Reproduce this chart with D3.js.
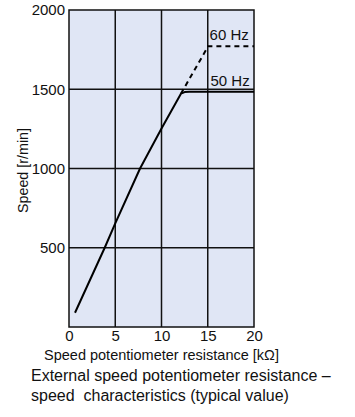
<!DOCTYPE html>
<html><head><meta charset="utf-8">
<script src="https://cdn.jsdelivr.net/npm/d3@7"></script>
<style>
html,body{margin:0;padding:0;background:#fff;}
svg{display:block;font-family:"Liberation Sans",Arial,Helvetica,sans-serif;}
</style></head>
<body>
<svg id="chart" width="355" height="417"></svg>
<script>
// Data
const resistance50 = [0.65, 3.86, 5, 7.68, 10, 12.1, 12.5, 13, 20];
const speed50      = [90, 500, 654, 1000, 1252, 1472, 1482, 1484, 1484];
const resistance60 = [12.1, 15.05, 20];
const speed60      = [1472, 1772, 1772];
const xTicks = [0, 5, 10, 15, 20];
const yTicks = [500, 1000, 1500, 2000];
const seriesLabels = ["60 Hz", "50 Hz"];
const xTitle = "Speed potentiometer resistance [kΩ]";
const yTitle = "Speed [r/min]";
const captionLines = ["External speed potentiometer resistance –", "speed  characteristics (typical value)"];

const svg = d3.select("#chart");
const L = 69, R = 254, T = 10, B = 327;
const x = d3.scaleLinear().domain([0, 20]).range([L, R]);
const y = d3.scaleLinear().domain([0, 2000]).range([B, T]);

svg.append("rect").attr("x", L).attr("y", T).attr("width", R - L).attr("height", B - T)
  .attr("fill", "#e0e6f5");

// grid
const g = svg.append("g");
g.selectAll(".vg").data(xTicks.slice(1, -1)).join("line")
  .attr("x1", d => x(d)).attr("x2", d => x(d)).attr("y1", T).attr("y2", B)
  .attr("stroke", "#111").attr("stroke-width", 1.5);
g.selectAll(".hg").data(yTicks.slice(0, -1)).join("line")
  .attr("y1", d => y(d)).attr("y2", d => y(d)).attr("x1", L).attr("x2", R)
  .attr("stroke", "#111").attr("stroke-width", 1.5);

// axes
const xAxis = svg.append("g").attr("transform", `translate(0,${B})`)
  .call(d3.axisBottom(x).tickValues(xTicks).tickFormat(d3.format("d")).tickSize(0).tickPadding(3));
const yAxis = svg.append("g").attr("transform", `translate(${L},0)`)
  .call(d3.axisLeft(y).tickValues(yTicks).tickFormat(d3.format("d")).tickSize(0).tickPadding(4));
[xAxis, yAxis].forEach(a => {
  a.attr("font-size", 15).attr("font-family", "Liberation Sans, Arial, sans-serif");
  a.select(".domain").remove();
  a.selectAll("text").attr("fill", "#111");
});

// frame
svg.append("rect").attr("x", L).attr("y", T).attr("width", R - L).attr("height", B - T)
  .attr("fill", "none").attr("stroke", "#111").attr("stroke-width", 1.5);

// lines
const line = d3.line().x(d => x(d[0])).y(d => y(d[1]));
svg.append("path").datum(d3.zip(resistance50, speed50)).attr("d", line)
  .attr("fill", "none").attr("stroke", "#000").attr("stroke-width", 2)
  .attr("stroke-linejoin", "round");
svg.append("path").datum(d3.zip(resistance60, speed60)).attr("d", line)
  .attr("fill", "none").attr("stroke", "#000").attr("stroke-width", 2)
  .attr("stroke-dasharray", "5,4");

// series labels
svg.append("text").attr("x", x(15.2)).attr("y", y(speed60[2]) - 6).text(seriesLabels[0])
  .attr("font-size", 15).attr("fill", "#111");
svg.append("text").attr("x", x(15.3)).attr("y", y(speed50[8]) - 6).text(seriesLabels[1])
  .attr("font-size", 15).attr("fill", "#111");

// titles
svg.append("text").attr("x", (43 + 280) / 2).attr("y", 360).attr("text-anchor", "middle")
  .attr("font-size", 14.5).attr("fill", "#111").text(xTitle);
svg.append("text").attr("transform", `translate(28,${(T + B) / 2 + 2}) rotate(-90)`)
  .attr("text-anchor", "middle").attr("font-size", 14.3).attr("fill", "#111").text(yTitle);

svg.selectAll(".cap").data(captionLines).join("text")
  .attr("x", 31).attr("y", (d, i) => 381 + i * 20)
  .attr("font-size", 16).attr("fill", "#111").attr("xml:space", "preserve")
  .style("white-space", "pre").text(d => d);
</script>
</body></html>
